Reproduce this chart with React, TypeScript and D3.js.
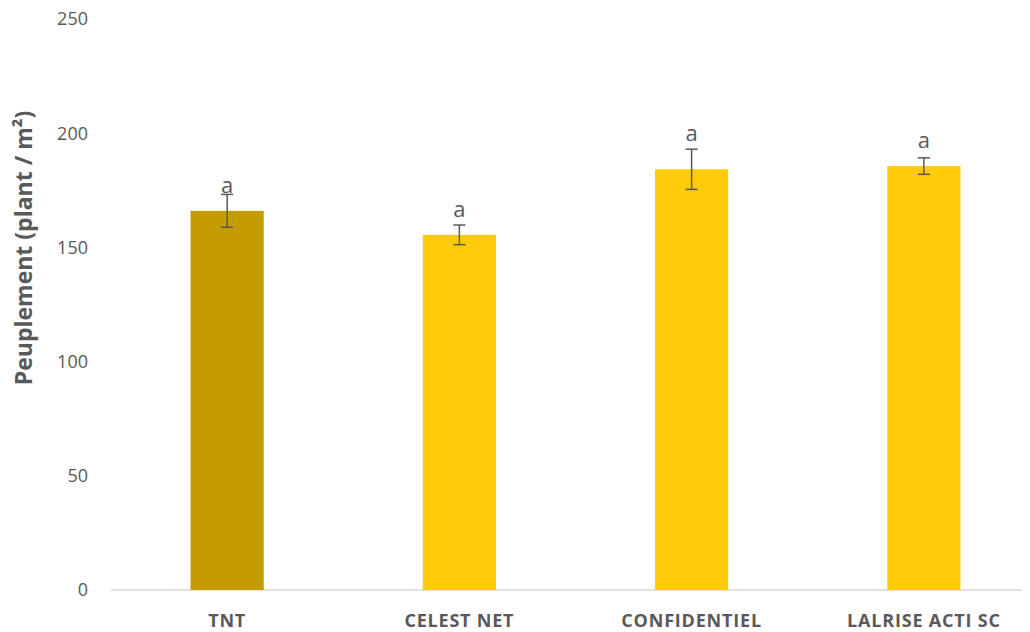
import React from "react";
import * as d3 from "d3";

const categories = ["TNT", "CELEST NET", "CONFIDENTIEL", "LALRISE ACTI SC"];
const values = [166, 155.5, 184.2, 185.6];
const errors = [7.2, 4.3, 8.8, 3.6];
const letters = ["a", "a", "a", "a"];
const letterAt = [173.7, 163.4, 196.7, 193.4];
const colors = ["#C59C00", "#FFCA08", "#FFCA08", "#FFCA08"];
const yTicks = [0, 50, 100, 150, 200, 250];

const W = 1030;
const H = 632;

export default function App() {
  const x = d3.scaleBand<string>().domain(categories).range([111, 1040]).paddingInner(0.685).paddingOuter(0.3425);
  const y = d3.scaleLinear().domain([0, 250]).range([590, 19]);
  const bw = x.bandwidth();
  const grey = "#595959";
  const font = "'Open Sans', sans-serif";
  return (
    <svg width={W} height={H} style={{ position: "absolute", left: 0, top: 0, background: "#fff" }}>
      {yTicks.map((t) => (
        <text key={t} x={88} y={y(t)} dy="0.35em" textAnchor="end" fontFamily={font} fontSize={18} fill={grey}>
          {t}
        </text>
      ))}
      <line x1={111} x2={1022} y1={y(0)} y2={y(0)} stroke="#D9D9D9" strokeWidth={1.5} />
      {categories.map((c, i) => {
        const cx = (x(c) as number) + bw / 2;
        const top = y(values[i] + errors[i]);
        const bot = y(values[i] - errors[i]);
        return (
          <g key={c}>
            <rect x={x(c)} y={y(values[i])} width={bw} height={y(0) - y(values[i])} fill={colors[i]} />
            <line x1={cx} x2={cx} y1={top} y2={bot} stroke={grey} strokeWidth={1.5} />
            <line x1={cx - 6} x2={cx + 6} y1={top} y2={top} stroke={grey} strokeWidth={1.5} />
            <line x1={cx - 6} x2={cx + 6} y1={bot} y2={bot} stroke={grey} strokeWidth={1.5} />
            <text x={cx} y={y(letterAt[i])} textAnchor="middle" fontFamily={font} fontSize={22} fill={grey}>
              {letters[i]}
            </text>
            <text x={cx} y={627} textAnchor="middle" fontFamily={font} fontWeight="bold" fontSize={18} letterSpacing={0.8} fill={grey}>
              {c}
            </text>
          </g>
        );
      })}
      <text transform={`translate(32,${248}) rotate(-90)`} textAnchor="middle" fontFamily={font} fontWeight="bold" fontSize={23} fill={grey}>
        Peuplement (plant / m²)
      </text>
    </svg>
  );
}
